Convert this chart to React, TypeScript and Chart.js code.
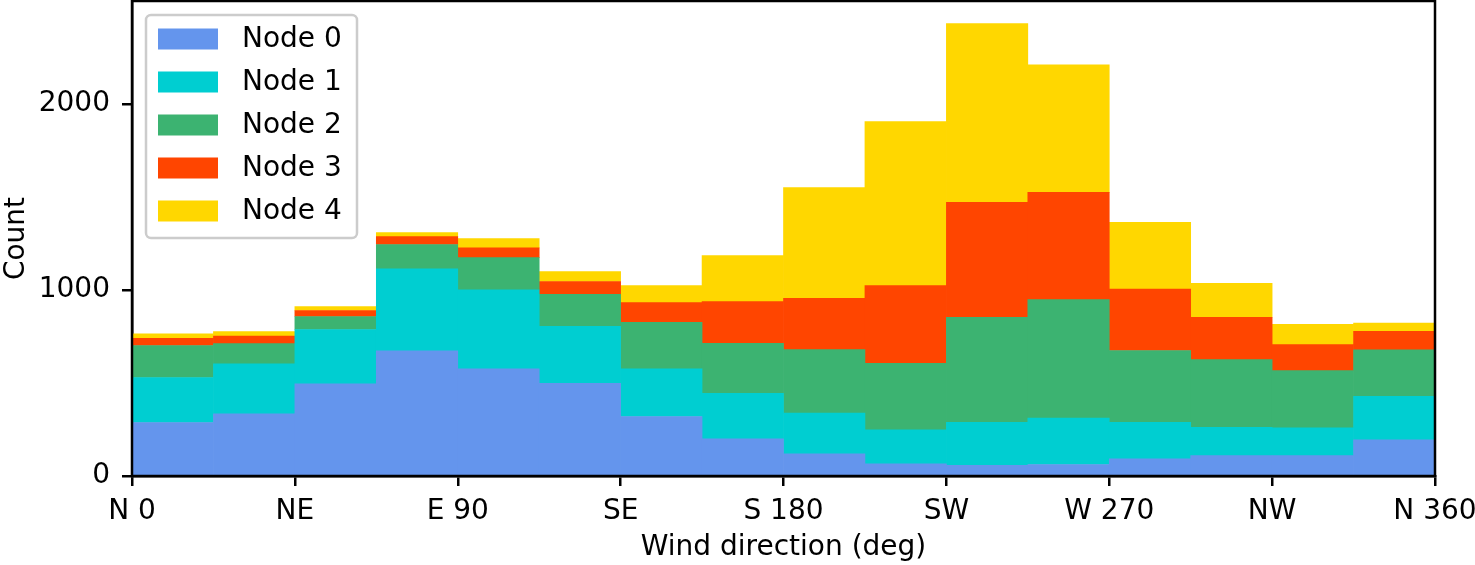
import React, { useEffect, useRef } from 'react';
import { Chart, registerables } from 'chart.js';

Chart.register(...registerables);

// bin centres (deg), 22.5 deg wide bins from 0 to 360
const binCenters = [
  11.25, 33.75, 56.25, 78.75, 101.25, 123.75, 146.25, 168.75,
  191.25, 213.75, 236.25, 258.75, 281.25, 303.75, 326.25, 348.75,
];

const node0 = [288, 334, 496, 673, 576, 499, 320, 200, 119, 66, 58, 62, 92, 110, 110, 195];
const node1 = [242, 269, 292, 441, 425, 306, 256, 245, 219, 182, 231, 249, 197, 152, 149, 234];
const node2 = [172, 109, 70, 131, 174, 172, 251, 269, 342, 358, 565, 638, 386, 364, 308, 249];
const node3 = [39, 40, 32, 43, 52, 69, 106, 224, 276, 418, 618, 577, 331, 228, 140, 100];
const node4 = [24, 25, 21, 21, 50, 53, 91, 247, 595, 882, 961, 686, 359, 183, 109, 44];

const seriesNames = ['Node 0', 'Node 1', 'Node 2', 'Node 3', 'Node 4'];
const seriesColors = ['#6495ED', '#00CED1', '#3CB371', '#FF4500', '#FFD700'];
const seriesValues = [node0, node1, node2, node3, node4];

const tickLabels = ['N 0', 'NE', 'E 90', 'SE', 'S 180', 'SW', 'W 270', 'NW', 'N 360'];
const yTicks = [0, 1000, 2000];

const FONT = '"DejaVu Sans", sans-serif';
const FONT_SIZE = 28;

// frame around the plot area plus a matplotlib-like legend in the upper left
const framePlugin = {
  id: 'frameAndLegend',
  afterDraw(chart: Chart) {
    const { ctx, chartArea } = chart;
    ctx.save();
    ctx.strokeStyle = '#000';
    ctx.lineWidth = 2.5;
    ctx.strokeRect(chartArea.left, chartArea.top, chartArea.right - chartArea.left, chartArea.bottom - chartArea.top);

    // legend box
    const lx = chartArea.left + 14;
    const ly = chartArea.top + 14;
    const lw = 211;
    const lh = 223;
    ctx.fillStyle = 'rgba(255,255,255,0.8)';
    ctx.strokeStyle = '#cccccc';
    ctx.lineWidth = 2.5;
    ctx.beginPath();
    ctx.roundRect(lx, ly, lw, lh, 5);
    ctx.fill();
    ctx.stroke();

    ctx.font = `${FONT_SIZE}px ${FONT}`;
    ctx.textBaseline = 'middle';
    ctx.textAlign = 'left';
    chart.data.datasets.forEach((ds, i) => {
      const cy = ly + 24 + i * 43;
      ctx.fillStyle = ds.backgroundColor as string;
      ctx.fillRect(lx + 12, cy - 10.5, 60, 21);
      ctx.fillStyle = '#000';
      ctx.fillText(ds.label as string, lx + 96, cy + 1);
    });
    ctx.restore();
  },
};

const App: React.FC = () => {
  const canvasRef = useRef<HTMLCanvasElement>(null);
  const chartRef = useRef<Chart | null>(null);

  useEffect(() => {
    if (!canvasRef.current) return;
    if (chartRef.current) chartRef.current.destroy();

    const datasets = seriesValues.map((vals, i) => ({
      label: seriesNames[i],
      data: binCenters.map((x, j) => ({ x, y: vals[j] })),
      backgroundColor: seriesColors[i],
      borderWidth: 0,
      barPercentage: 1,
      categoryPercentage: 1,
    }));

    chartRef.current = new Chart(canvasRef.current, {
      type: 'bar',
      data: { datasets },
      options: {
        animation: false,
        responsive: true,
        maintainAspectRatio: false,
        layout: { padding: { top: 1, right: 40, left: 0, bottom: 0 } },
        plugins: {
          legend: { display: false },
          tooltip: { enabled: false },
        },
        scales: {
          x: {
            type: 'linear',
            stacked: true,
            offset: false,
            min: 0,
            max: 360,
            grid: {
              offset: false,
              drawOnChartArea: false,
              drawTicks: true,
              tickLength: 10,
              color: '#000',
              lineWidth: 2.5,
            },
            border: { display: true, color: '#000', width: 2.5 },
            ticks: {
              stepSize: 45,
              autoSkip: false,
              maxRotation: 0,
              padding: 9,
              color: '#000',
              font: { family: FONT, size: FONT_SIZE },
              callback: (v) => tickLabels[Math.round(Number(v) / 45)] ?? '',
            },
            title: {
              display: true,
              text: 'Wind direction (deg)',
              color: '#000',
              font: { family: FONT, size: FONT_SIZE },
              padding: { top: 0, bottom: 0 },
            },
            afterFit: (scale) => {
              scale.height = 89;
              scale.paddingLeft = 0;
              scale.paddingRight = 0;
            },
          },
          y: {
            stacked: true,
            min: 0,
            max: 2555,
            grid: {
              drawOnChartArea: false,
              drawTicks: true,
              tickLength: 10,
              color: '#000',
              lineWidth: 2.5,
            },
            border: { display: true, color: '#000', width: 2.5 },
            ticks: {
              padding: 12,
              color: '#000',
              font: { family: FONT, size: FONT_SIZE },
              callback: (v) => String(v),
            },
            afterBuildTicks: (scale) => {
              scale.ticks = yTicks.map((value) => ({ value }));
            },
            title: {
              display: true,
              text: 'Count',
              color: '#000',
              font: { family: FONT, size: FONT_SIZE },
              padding: { top: 0, bottom: 0 },
            },
            afterFit: (scale) => {
              scale.width = 132;
              scale.paddingTop = 0;
              scale.paddingBottom = 0;
            },
          },
        },
      },
      plugins: [framePlugin],
    });

    return () => {
      if (chartRef.current) {
        chartRef.current.destroy();
        chartRef.current = null;
      }
    };
  }, []);

  return (
    <div style={{ position: 'fixed', left: 0, top: 0, width: 1475, height: 565, background: '#fff' }}>
      <canvas ref={canvasRef}></canvas>
    </div>
  );
};

export default App;
